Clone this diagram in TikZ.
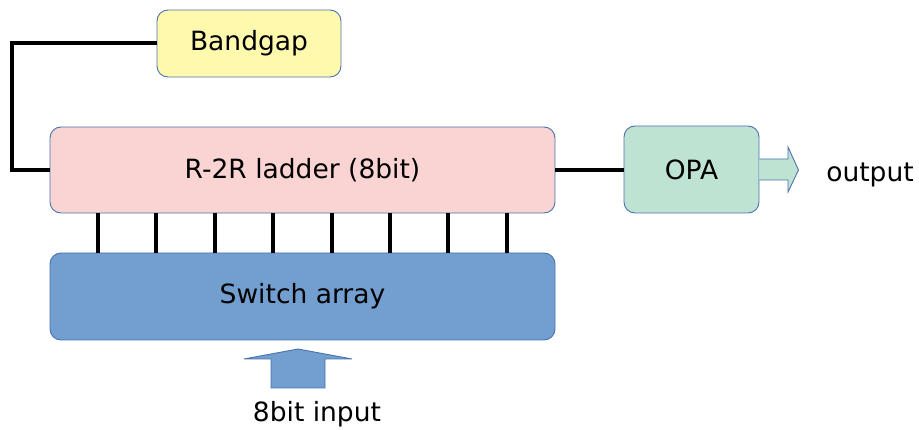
\documentclass[tikz,border=0pt]{standalone}
\usepackage{fontspec}
\setmainfont{DejaVu Sans}
\begin{document}
\begin{tikzpicture}[x=1pt,y=-1pt,
  txt/.style={font=\fontsize{26.5}{30}\selectfont},
  blk/.style={draw=bordc, line width=0.9pt, rounded corners=11pt, inner sep=0pt, txt},
  wire/.style={line width=4pt, black},
  fat/.style={draw=bordc, line width=0.9pt, line join=miter}]
\definecolor{bordc}{HTML}{4A72B0}
\definecolor{bgy}{HTML}{FFF9AE}
\definecolor{rpink}{HTML}{FAD4D2}
\definecolor{swb}{HTML}{729FCF}
\definecolor{opag}{HTML}{BEE3D3}
\useasboundingbox (0,0) rectangle (919,430);
\node[blk, fill=bgy, minimum width=184pt, minimum height=67pt] (bg) at (249,43.5) {Bandgap};
\node[blk, fill=rpink, minimum width=505pt, minimum height=86pt] (r2r) at (302.5,170) {R-2R ladder (8bit)};
\node[blk, fill=swb, minimum width=505pt, minimum height=87pt] (sw) at (302.5,296.5) {Switch array};
\node[blk, fill=opag, minimum width=135pt, minimum height=87pt] (opa) at (691.5,169.5) {OPA};
\coordinate (c1) at (12,43);
\coordinate (c2) at (12,170);
\draw[wire, line join=miter] (bg.west |- c1) -- (c1) -- (c2) -- (r2r.west |- c2);
\draw[wire] (r2r.east |- c2) -- (opa.west |- c2);
\foreach \i in {0,...,7}{
  \pgfmathsetmacro{\xx}{98+\i*58.4}
  \coordinate (t\i) at (\xx,0);
  \draw[wire] (t\i |- r2r.south) -- (t\i |- sw.north);
}
\coordinate (a1) at (0,159);
\coordinate (a2) at (0,180);
\draw[fat, fill=opag] (opa.east |- a1) -- (788,159) -- (788,147) -- (798.5,170) -- (788,192) -- (788,180) -- (opa.east |- a2);
\node[txt] (out) at (870,175) {output};
\draw[fat, fill=swb] (271,388) -- (271,359) -- (244,359) -- (298,349) -- (352,359) -- (325,359) -- (325,388) -- cycle;
\node[txt] (in) at (317,414) {8bit input};
\end{tikzpicture}
\end{document}
